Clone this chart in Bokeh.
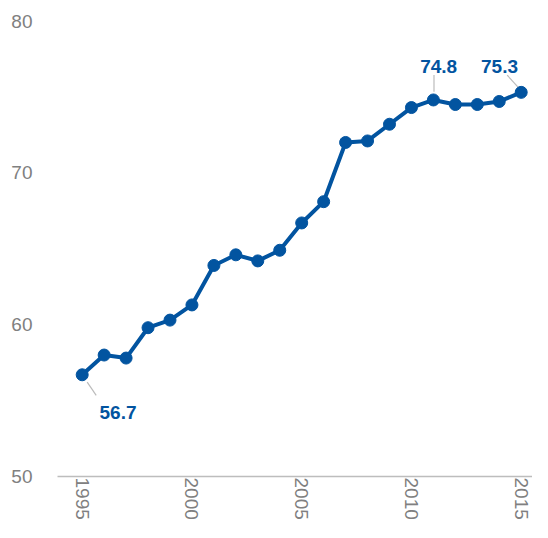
import math
from bokeh.plotting import figure
from bokeh.models import Range1d, FixedTicker, ColumnDataSource
from bokeh.core.properties import value
from bokeh.embed import file_html
from bokeh.resources import INLINE

# ---- data ----
years = list(range(1995, 2016))
values = [56.7, 58.0, 57.8, 59.8, 60.3, 61.3, 63.9, 64.6, 64.2, 64.9, 66.7,
          68.1, 72.0, 72.1, 73.2, 74.3, 74.8, 74.5, 74.5, 74.7, 75.3]
y_ticks = [50, 60, 70, 80]
x_ticks = [1995, 2000, 2005, 2010, 2015]
labeled_years = [1995, 2011, 2015]

# ---- style / layout ----
BLUE = "#0254a0"
GRAY_TXT = "#808080"
FONT = "Liberation Sans"
PX_PER_YEAR = 21.95
PX_PER_UNIT = 15.25
# label placement offsets in px (dx right, dy down), text align
label_layout = {
    1995: dict(tx=17.3, ty=38.0, align="left", l0=(5.0, 7.3), l1=(14.0, 20.7)),
    2011: dict(tx=5.3, ty=-33.3, align="center", l0=(0.6, -25.0), l1=(0.6, -8.3)),
    2015: dict(tx=-21.7, ty=-25.6, align="center", l0=(-14.0, -17.3), l1=(-3.4, -5.6)),
}

p = figure(width=532, height=522, output_backend="svg", toolbar_location=None,
           x_range=Range1d(1993.875, 2015.515), y_range=Range1d(50, 80.56),
           min_border_left=57, min_border_right=0, min_border_top=12,
           min_border_bottom=44)
p.outline_line_color = None
p.xgrid.grid_line_color = None
p.ygrid.grid_line_color = None
p.background_fill_color = "white"
p.border_fill_color = "white"

p.yaxis.ticker = FixedTicker(ticks=y_ticks)
p.yaxis.axis_line_color = None
p.yaxis.major_tick_line_color = None
p.yaxis.minor_tick_line_color = None
p.yaxis.major_tick_out = 0
p.yaxis.major_tick_in = 0
p.yaxis.minor_tick_out = 0
p.yaxis.major_label_standoff = 25
p.yaxis.major_label_text_font = FONT
p.yaxis.major_label_text_font_size = "19px"
p.yaxis.major_label_text_color = GRAY_TXT

p.xaxis.ticker = FixedTicker(ticks=x_ticks)
p.xaxis.axis_line_color = "#bdbdbd"
p.xaxis.axis_line_width = 1.5
p.xaxis.major_tick_line_color = None
p.xaxis.minor_tick_line_color = None
p.xaxis.major_tick_out = 0
p.xaxis.major_tick_in = 0
p.xaxis.minor_tick_out = 0
p.xaxis.major_label_orientation = -math.pi / 2
p.xaxis.major_label_standoff = 1
p.xaxis.major_label_text_font = FONT
p.xaxis.major_label_text_font_size = "19px"
p.xaxis.major_label_text_color = GRAY_TXT

src = ColumnDataSource(dict(x=years, y=values))
p.line("x", "y", source=src, line_color=BLUE, line_width=4)
p.scatter("x", "y", source=src, size=12, fill_color=BLUE, line_color=BLUE)

# annotations
lx, ly, lt, la = [], [], [], []
sx0, sy0, sx1, sy1 = [], [], [], []
for yr in labeled_years:
    v = values[years.index(yr)]
    L = label_layout[yr]
    lx.append(yr + L["tx"] / PX_PER_YEAR)
    ly.append(v - L["ty"] / PX_PER_UNIT)
    lt.append(f"{v:.1f}")
    la.append(L["align"])
    sx0.append(yr + L["l0"][0] / PX_PER_YEAR)
    sy0.append(v - L["l0"][1] / PX_PER_UNIT)
    sx1.append(yr + L["l1"][0] / PX_PER_YEAR)
    sy1.append(v - L["l1"][1] / PX_PER_UNIT)

p.segment(x0=sx0, y0=sy0, x1=sx1, y1=sy1, line_color="#bbbbbb", line_width=1.2)
lab_src = ColumnDataSource(dict(x=lx, y=ly, t=lt, a=la))
p.text("x", "y", text="t", source=lab_src, text_align="a",
       text_baseline="alphabetic", text_color=BLUE,
       text_font=value(FONT), text_font_size="19px", text_font_style="bold")

open("out.html", "w").write(file_html(p, INLINE))
